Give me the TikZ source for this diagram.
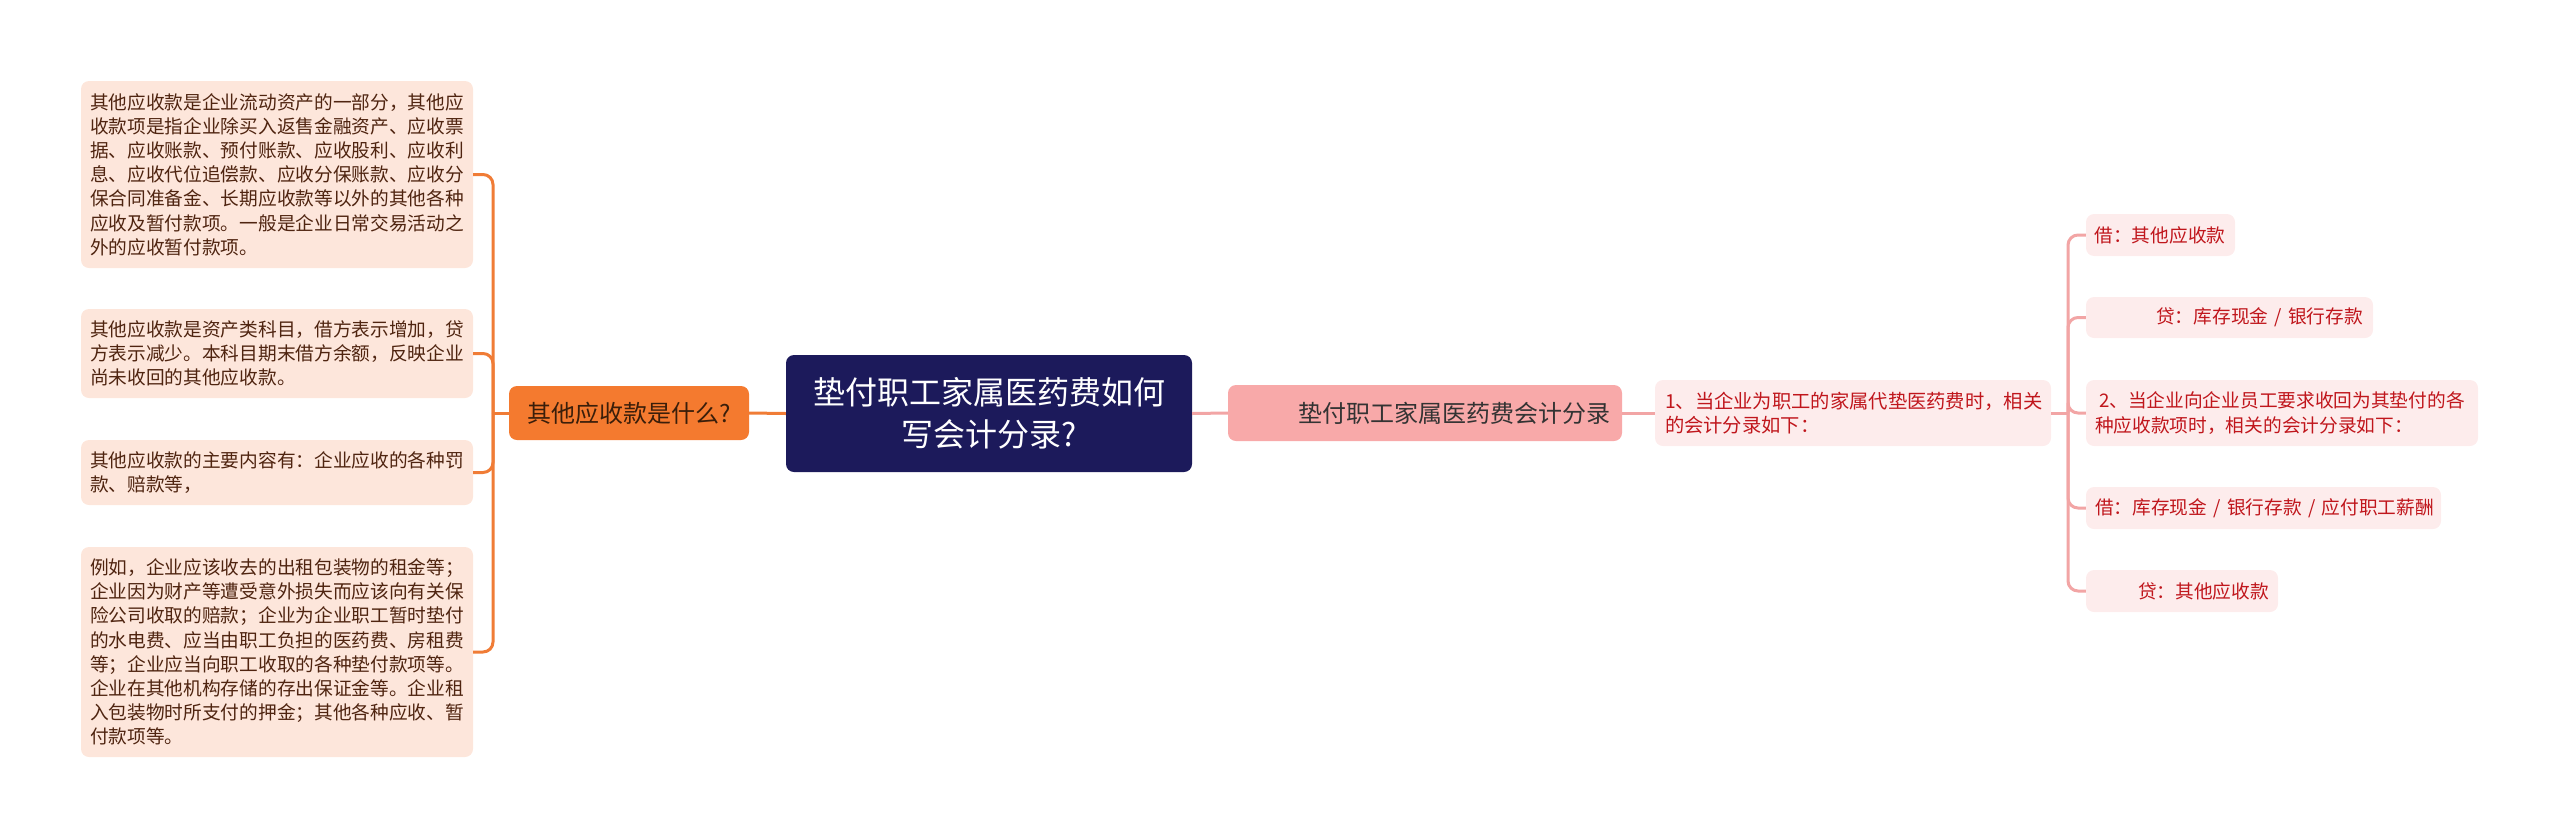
\documentclass[tikz,border=0pt]{standalone}
\usepackage{fontspec}
\setmainfont{Noto Sans CJK SC}
\definecolor{lconn}{HTML}{F07C36}
\definecolor{lleaffill}{HTML}{FDE6DB}
\definecolor{lleaftext}{HTML}{4F2410}
\definecolor{orangefill}{HTML}{F47A2F}
\definecolor{orangetext}{HTML}{3A1E0A}
\definecolor{navy}{HTML}{1C1A5B}
\definecolor{pinkfill}{HTML}{F8A9A9}
\definecolor{pinktext}{HTML}{333333}
\definecolor{rconn}{HTML}{F2A5A5}
\definecolor{rleaffill}{HTML}{FDECEC}
\definecolor{rtext}{HTML}{C0161C}
\tikzset{
  lleaf/.style={fill=lleaffill, rounded corners=8pt, inner sep=0pt, minimum width=392pt,
    text width=374pt, align=left, text=lleaftext, font=\fontsize{18.7}{24.2}\selectfont},
  orangebox/.style={fill=orangefill, rounded corners=8pt, inner sep=0pt, minimum width=240pt,
    minimum height=54pt, text=orangetext, font=\fontsize{24}{30}\selectfont},
  centerbox/.style={fill=navy, rounded corners=8pt, inner sep=0pt, minimum width=406pt,
    minimum height=117pt, text=white, align=center, font=\fontsize{32}{42}\selectfont},
  pinkbox/.style={fill=pinkfill, rounded corners=8pt, inner sep=0pt, minimum width=394pt,
    minimum height=56pt, text width=370pt, align=right, text=pinktext, font=\fontsize{24}{30}\selectfont},
  rleaf/.style={fill=rleaffill, rounded corners=8pt, inner sep=0pt, text=rtext,
    font=\fontsize{18.7}{24.2}\selectfont},
  lconnline/.style={draw=lconn, line width=3pt},
  rconnline/.style={draw=rconn, line width=3pt},
}
\begin{document}
\begin{tikzpicture}[x=1pt,y=-1pt]
\useasboundingbox (0,0) rectangle (2560,839);
% center
\node[centerbox] (center) at (989,413.5) {垫付职工家属医药费如何\\写会计分录?};
% left branch
\node[orangebox] (orange) at (629,413) {其他应收款是什么?};
\node[lleaf, minimum height=187pt] (l1) at (277,174.5) {其他应收款是企业流动资产的一部分，其他应\\收款项是指企业除买入返售金融资产、应收票\\据、应收账款、预付账款、应收股利、应收利\\息、应收代位追偿款、应收分保账款、应收分\\保合同准备金、长期应收款等以外的其他各种\\应收及暂付款项。一般是企业日常交易活动之\\外的应收暂付款项。};
\node[lleaf, minimum height=89pt] (l2) at (277,353.5) {其他应收款是资产类科目，借方表示增加，贷\\方表示减少。本科目期末借方余额，反映企业\\尚未收回的其他应收款。};
\node[lleaf, minimum height=65pt] (l3) at (277,472.5) {其他应收款的主要内容有：企业应收的各种罚\\款、赔款等，};
\node[lleaf, minimum height=210pt] (l4) at (277,652) {例如，企业应该收去的出租包装物的租金等；\\企业因为财产等遭受意外损失而应该向有关保\\险公司收取的赔款；企业为企业职工暂时垫付\\的水电费、应当由职工负担的医药费、房租费\\等；企业应当向职工收取的各种垫付款项等。\\企业在其他机构存储的存出保证金等。企业租\\入包装物时所支付的押金；其他各种应收、暂\\付款项等。};
% right branch
\node[pinkbox] (pink) at (1425,413) {垫付职工家属医药费会计分录};
\node[rleaf, minimum width=396pt, minimum height=66pt, text width=376pt, align=left,
  font=\fontsize{19.3}{24.2}\selectfont] (n1) at (1853,413) {1、当企业为职工的家属代垫医药费时，相关\\的会计分录如下：};
\node[rleaf, minimum width=149pt, minimum height=42pt, text width=132pt, align=left] (ra) at (2160.5,235) {借：其他应收款};
\node[rleaf, minimum width=287pt, minimum height=41pt, text width=267pt, align=right] (rb) at (2229.5,317.5) {\mbox{贷：库存现金 / 银行存款}};
\node[rleaf, minimum width=392pt, minimum height=66pt, text width=374pt, align=left] (rc) at (2282,413) {\hspace*{4pt}2、当企业向企业员工要求收回为其垫付的各\\种应收款项时，相关的会计分录如下：};
\node[rleaf, minimum width=355pt, minimum height=42pt, text width=337pt, align=left] (rd) at (2263.5,508) {\mbox{借：库存现金 / 银行存款 / 应付职工薪酬}};
\node[rleaf, minimum width=192pt, minimum height=42pt, text width=174pt, align=right] (re) at (2182,591) {贷：其他应收款};
% connectors
\draw[lconnline] (center.west) -- (orange.east);
\coordinate (jl) at (493,413);
\draw[lconnline] (orange.west) -- (jl);
\foreach \n in {l1,l2,l3,l4} \draw[lconnline, rounded corners=10pt] (jl) |- (\n.east);
\draw[rconnline] (center.east) -- (pink.west);
\draw[rconnline] (pink.east) -- (n1.west);
\coordinate (jr) at (2068,413);
\draw[rconnline] (n1.east) -- (jr);
\foreach \n in {ra,rb,rc,rd,re} \draw[rconnline, rounded corners=10pt] (jr) |- (\n.west);
\end{tikzpicture}
\end{document}
